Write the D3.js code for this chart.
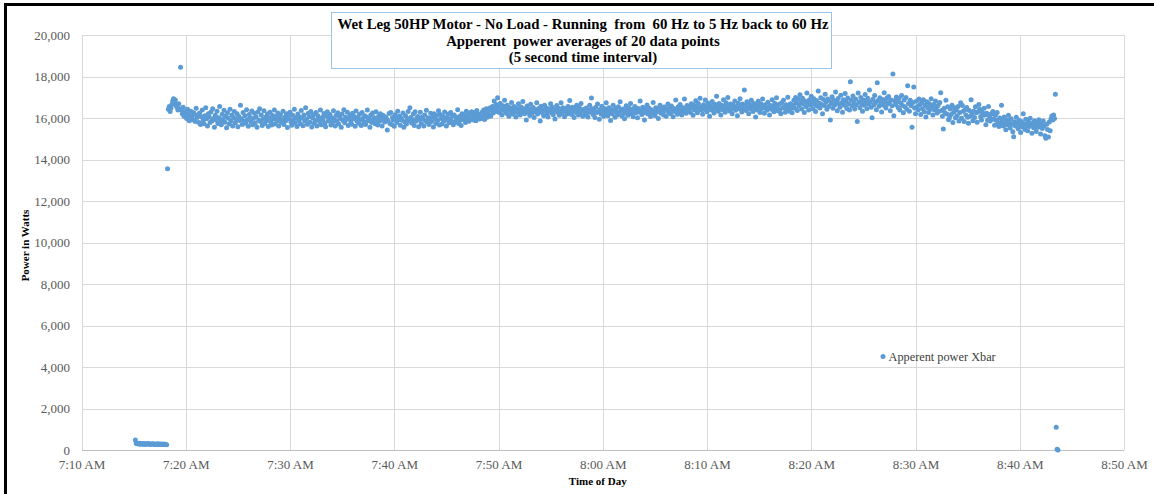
<!DOCTYPE html>
<html>
<head>
<meta charset="utf-8">
<script src="https://d3js.org/d3.v7.min.js"></script>
<style>
	body { margin: 0; background: #fff; }
	svg { display: block; font-family: "Liberation Serif", "Times New Roman", serif; }
	.axis .domain { display: none; }
	.axis line { stroke: #d9d9d9; shape-rendering: crispEdges; }
	.axis text { fill: #595959; font-size: 13px; font-family: "Liberation Serif", "Times New Roman", serif; }
</style>
</head>
<body>
<svg width="1154" height="494"></svg>
<script>
// Apparent power, one value every 5 seconds (watts)
const stepSeconds = 5;

// motor idle before the run
const idleStart = "07:15:10";
const idleWatts = [
	480, 330, 300, 310, 290, 320, 280, 300, 290, 310,
	270, 300, 290, 280, 310, 290, 300, 270, 290, 280,
	300, 290, 260, 280, 290, 270, 300, 280, 260, 290,
	280, 270, 290, 260, 280, 270, 250
];

// the run, in blocks of about ten minutes from runStart
const runStart = "07:18:15";
const block1 = [
	13550, 16420, 16560, 16310, 16480, 16650, 16820, 16930, 16740, 16870,
	16600, 16520, 16380, 16690, 16450, 18450, 16380, 16210, 16520, 16090,
	16300, 16150, 15980, 16420, 16260, 15870, 16110, 16330, 16040, 15920,
	16250, 16180, 15830, 16470, 16020, 16140, 15780, 16240, 15690, 16060,
	16380, 15890, 15720, 16110, 16490, 15960, 15610, 16200, 16050, 15780,
	16290, 15850, 16440, 15980, 15560, 16130, 15900, 16320, 15740, 16010,
	16560, 15820, 15670, 16180, 15940, 16370, 15790, 16080, 15530, 16250,
	15990, 15710, 16420, 15860, 16150, 15620, 16030, 16310, 15770, 15930,
	16210, 15580, 16090, 15880, 16620, 15960, 15690, 16270, 15840, 16110,
	15750, 16400, 15920, 15600, 16170, 16020, 15810, 16340, 15680, 15970,
	16230, 15760, 16060, 15550, 16290, 15900, 16450, 15830, 16140, 15640,
	15940, 16350, 15730, 16050, 15870, 16190, 15590, 16000, 16280, 15800,
	15660, 16120, 15950, 16380, 15710, 16070, 15850, 16240, 15620, 15980
];
const block2 = [
	16160, 15780, 15920, 16330, 15690, 16040, 15870, 16210, 15540, 16090,
	15960, 16280, 15820, 15650, 16130, 15910, 16420, 15760, 16020, 15590,
	16190, 15880, 16050, 15720, 16360, 15990, 15630, 16140, 15850, 16500,
	15940, 15700, 16230, 16070, 15800, 16310, 15570, 16000, 16160, 15750,
	15890, 16260, 15610, 16110, 15970, 15830, 16390, 15680, 16030, 15900,
	16220, 15740, 15580, 16080, 16300, 15860, 15950, 16170, 15660, 16010,
	15790, 16350, 15920, 15620, 16120, 15840, 16250, 15710, 16060, 15980,
	15550, 16190, 15880, 16400, 15770, 16040, 15930, 16280, 15640, 15990,
	16130, 15810, 15700, 16230, 15960, 16070, 15600, 16340, 15850, 16020,
	15750, 16180, 15910, 15640, 16270, 15990, 15820, 16110, 15690, 16050,
	16380, 15870, 15960, 15560, 16150, 15780, 16240, 15930, 16010, 15720,
	16300, 15890, 15660, 16090, 15840, 16200, 15970, 15610, 16130, 15900
];
const block3 = [
	15810, 16050, 15990, 15420, 15870, 16220, 15740, 16260, 15690, 16030,
	15900, 15600, 16160, 15970, 15780, 16330, 15920, 16080, 15650, 16000,
	15890, 16240, 15550, 15820, 16110, 15710, 15980, 16310, 15870, 16500,
	16020, 15760, 15930, 16190, 15640, 16300, 15840, 15990, 16070, 15580,
	15910, 16280, 15730, 16040, 15960, 15620, 16150, 15860, 16370, 15790,
	16010, 15690, 15970, 16230, 15830, 16060, 15570, 16200, 15950, 15740,
	16120, 15880, 16350, 15660, 16170, 15980, 15710, 16080, 15840, 16290,
	15920, 15610, 16040, 16190, 15770, 15940, 16260, 15850, 16100, 15680,
	16140, 15810, 16020, 15960, 16400, 15730, 16070, 15890, 15640, 16210,
	16030, 15920, 16150, 15780, 16320, 15990, 16090, 15840, 16230, 15960,
	16300, 16050, 15900, 16250, 16120, 15870, 16360, 16010, 16180, 15950,
	16160, 15980, 16280, 16060, 16390, 15930, 16200, 16450, 16040, 16310
];
const block4 = [
	16150, 16480, 16090, 16370, 16560, 16240, 16820, 16430, 16650, 16310,
	16980, 16520, 16270, 16700, 16400, 16150, 16590, 16360, 16860, 16480,
	16230, 16620, 16380, 16090, 16510, 16290, 16750, 16420, 16180, 16560,
	16330, 16050, 16470, 16260, 16690, 16390, 16140, 16530, 16310, 16800,
	16440, 16200, 16370, 15900, 16580, 16280, 16450, 16120, 16660, 16350,
	16240, 16510, 16020, 16400, 16300, 16730, 16190, 16460, 16330, 15850,
	16570, 16260, 16390, 16110, 16620, 16340, 16480, 16210, 16050, 16440,
	16370, 16690, 16250, 16520, 16160, 16410, 15950, 16330, 16600, 16280,
	16470, 16130, 16380, 16740, 16220, 16500, 16310, 16060, 16450, 16350,
	16190, 16560, 16290, 16840, 16400, 16170, 16520, 16330, 16020, 16460,
	16270, 16610, 16380, 16140, 16500, 16230, 16700, 16360, 16080, 16420,
	16310, 16150, 16480, 16230, 16050, 16390, 16620, 16280, 16960, 16440
];
const block5 = [
	16170, 16350, 16020, 16520, 16260, 16680, 16300, 15940, 16410, 16190,
	16570, 16320, 16080, 16460, 16240, 16730, 16350, 16110, 16500, 16280,
	15880, 16400, 16210, 16610, 16330, 16040, 16470, 16260, 16150, 16540,
	16290, 16780, 16380, 16100, 16430, 16220, 15960, 16360, 16590, 16270,
	16130, 16490, 16310, 16700, 16200, 16420, 16060, 16340, 16550, 16250,
	16380, 16010, 16460, 16290, 16820, 16350, 16170, 16520, 16240, 15900,
	16410, 16300, 16630, 16190, 16480, 16340, 16070, 16400, 16260, 16750,
	16330, 16120, 16500, 16280, 16440, 15980, 16370, 16610, 16230, 16470,
	16300, 16150, 16530, 16360, 16090, 16420, 16680, 16270, 16490, 16210,
	16580, 16340, 16060, 16460, 16310, 16870, 16400, 16180, 16540, 16290,
	16650, 16370, 16140, 16510, 16330, 16920, 16450, 16230, 16600, 16380,
	16420, 16580, 16270, 16690, 16480, 16130, 16610, 16390, 16830, 16520
];
const block6 = [
	16250, 16700, 16460, 16950, 16380, 16560, 16180, 16640, 16410, 16870,
	16530, 16300, 16720, 16470, 16090, 16600, 16380, 16790, 16510, 16240,
	16660, 16440, 17050, 16570, 16320, 16700, 16490, 16150, 16620, 16400,
	16880, 16550, 16280, 16730, 16460, 16990, 16590, 16340, 16680, 16420,
	16210, 16640, 16500, 16820, 16370, 16560, 16110, 16710, 16450, 16930,
	16530, 16290, 16670, 16410, 17350, 16600, 16360, 16780, 16490, 16200,
	16650, 16430, 16860, 16540, 16310, 16700, 16470, 16050, 16620, 16390,
	16810, 16560, 16270, 16690, 16440, 16920, 16510, 16230, 16640, 16480,
	16370, 16760, 16520, 16150, 16600, 16420, 16880, 16550, 16300, 16710,
	16460, 16970, 16580, 16340, 16660, 16400, 16200, 16730, 16490, 16850,
	16530, 16280, 16640, 16450, 17000, 16570, 16320, 16690, 16480, 16250,
	16620, 16850, 16470, 16990, 16710, 16360, 16900, 16580, 17120, 16760
];
const block7 = [
	16430, 16950, 16680, 16270, 16820, 16540, 17210, 16740, 16390, 16880,
	16620, 17050, 16780, 16450, 16930, 16660, 16310, 16840, 16570, 17300,
	16720, 16480, 16970, 16650, 16200, 16890, 16600, 17150, 16770, 16420,
	16910, 16550, 16830, 15900, 16700, 17020, 16470, 16860, 16630, 17250,
	16790, 16350, 16940, 16690, 16520, 17100, 16740, 16280, 16880, 16610,
	17180, 16810, 16460, 16960, 16670, 16390, 17750, 16850, 16580, 17060,
	16720, 16430, 16920, 16640, 15830, 17200, 16770, 16500, 16990, 16690,
	16330, 16870, 16610, 17130, 16800, 16450, 16950, 16660, 17350, 16780,
	16520, 16010, 16900, 16630, 17080, 16750, 16400, 17700, 16840, 16570,
	16980, 16700, 16290, 16890, 16620, 17220, 16810, 16480, 16960, 16680,
	17040, 16760, 16350, 16870, 16590, 18120, 16110, 16830, 16650, 17010,
	16780, 16510, 16940, 16380, 16720, 17080, 16600, 16250, 16870, 16540
];
const block8 = [
	16990, 16420, 17550, 16700, 16330, 16860, 16590, 15560, 16750, 17500,
	16480, 16200, 16810, 16550, 16390, 16920, 16640, 16170, 16730, 16450,
	16880, 16300, 16610, 16050, 16780, 16490, 16260, 16690, 16410, 16930,
	16560, 16140, 16650, 16380, 16820, 16510, 16240, 16600, 16320, 16750,
	17220, 16360, 16080, 15470, 16470, 16250, 16850, 16190, 16540, 15910,
	16000, 16430, 16170, 16620, 15780, 16280, 16490, 16010, 16380, 16110,
	16560, 15860, 16260, 16740, 15990, 16600, 16320, 15830, 16400, 16150,
	16510, 16040, 15750, 16360, 16090, 16880, 16200, 15870, 16330, 16020,
	16540, 16250, 15800, 16300, 16650, 16420, 16070, 15900, 16280, 16130,
	16470, 16140, 15680, 16230, 15890, 16550, 16080, 15860, 16190, 15950,
	16310, 15940, 15650, 16130, 15890, 16260, 15780, 15590, 16000, 15740,
	16620, 15880, 15620, 16050, 15740, 15430, 15910, 15680, 16130, 15790
];
const block9 = [
	15520, 15960, 15700, 15340, 15100, 15820, 15610, 16040, 15750, 15480,
	15890, 15660, 15300, 15830, 15570, 16200, 15720, 15450, 15940, 15640,
	15380, 15810, 15590, 15990, 15700, 15260, 15760, 15530, 15870, 15620,
	15350, 15790, 15560, 15920, 15680, 15230, 15740, 15500, 15850, 15610,
	15150, 15020, 15700, 15440, 15090, 15810, 15380, 15960, 16100, 15900,
	16150, 15980, 17150, 1100, 40, 0
];

const xTicks = ["07:10", "07:20", "07:30", "07:40", "07:50", "08:00", "08:10", "08:20", "08:30", "08:40", "08:50"];
const yTicks = [0, 2000, 4000, 6000, 8000, 10000, 12000, 14000, 16000, 18000, 20000];
const titleLines = [
	"Wet Leg 50HP Motor - No Load - Running  from  60 Hz to 5 Hz back to 60 Hz",
	"Apperent  power averages of 20 data points",
	"(5 second time interval)"
];
const seriesName = "Apperent power Xbar";

const svg = d3.select("svg");
const plotLeft = 81.5, plotRight = 1124, plotTop = 35, plotBottom = 450;
const color = "#5b9bd5";

const parseHms = d3.timeParse("%H:%M:%S");
const parseHm = d3.timeParse("%H:%M");

function series(start, values) {
	const t0 = parseHms(start);
	return values.map(function(v, i) {
		return { time: d3.timeSecond.offset(t0, i * stepSeconds), watts: v };
	});
}

const runWatts = [].concat(block1, block2, block3, block4, block5, block6, block7, block8, block9);
const points = series(idleStart, idleWatts).concat(series(runStart, runWatts));

const x = d3.scaleTime()
	.domain([parseHm(xTicks[0]), parseHm(xTicks[xTicks.length - 1])])
	.range([plotLeft, plotRight]);

const y = d3.scaleLinear()
	.domain([0, 20000])
	.range([plotBottom, plotTop]);

svg.append("rect")
	.attr("width", 1154)
	.attr("height", 494)
	.attr("fill", "#fff");

// frame edges of the screenshot
svg.append("rect").attr("x", 4).attr("y", 3).attr("width", 3).attr("height", 491).attr("fill", "#000");
svg.append("rect").attr("x", 4).attr("y", 3).attr("width", 1150).attr("height", 3).attr("fill", "#000");

svg.append("g")
	.attr("class", "axis y")
	.attr("transform", "translate(" + plotLeft + ",0)")
	.call(d3.axisLeft(y)
		.tickValues(yTicks)
		.tickSize(-(plotRight - plotLeft))
		.tickPadding(11.5)
		.tickFormat(d3.format(",")));

svg.append("g")
	.attr("class", "axis x")
	.attr("transform", "translate(0," + plotBottom + ")")
	.call(d3.axisBottom(x)
		.tickValues(xTicks.map(parseHm))
		.tickSize(-(plotBottom - plotTop))
		.tickPadding(10)
		.tickFormat(d3.timeFormat("%-I:%M %p")));

svg.append("line")
	.attr("x1", plotLeft).attr("x2", plotRight)
	.attr("y1", plotBottom).attr("y2", plotBottom)
	.attr("stroke", "#bfbfbf")
	.attr("shape-rendering", "crispEdges");

svg.append("g")
	.attr("class", "points")
	.selectAll("circle")
	.data(points)
	.enter().append("circle")
	.attr("cx", function(d) { return x(d.time); })
	.attr("cy", function(d) { return y(d.watts); })
	.attr("r", 2.5)
	.attr("fill", color);

// title box
const title = svg.append("g").attr("class", "title");
title.append("rect")
	.attr("x", 331.5).attr("y", 12.5)
	.attr("width", 500).attr("height", 56)
	.attr("fill", "#fff")
	.attr("stroke", "#9dc3e6");
title.selectAll("text")
	.data(titleLines)
	.enter().append("text")
	.attr("x", 583)
	.attr("y", function(d, i) { return 29 + i * 16.5; })
	.attr("text-anchor", "middle")
	.attr("font-size", "14.8px")
	.attr("font-weight", "bold")
	.attr("fill", "#000")
	.style("white-space", "pre")
	.text(function(d) { return d; });

svg.append("text")
	.attr("x", (plotLeft + plotRight) / 2 - 5)
	.attr("y", 485)
	.attr("text-anchor", "middle")
	.attr("font-size", "11px")
	.attr("font-weight", "bold")
	.text("Time of Day");

svg.append("text")
	.attr("transform", "translate(28.5," + ((plotTop + plotBottom) / 2 + 3) + ") rotate(-90)")
	.attr("text-anchor", "middle")
	.attr("font-size", "11px")
	.attr("font-weight", "bold")
	.text("Power in Watts");

// legend
const legend = svg.append("g").attr("class", "legend");
legend.append("circle")
	.attr("cx", 883).attr("cy", 356.5)
	.attr("r", 2.5)
	.attr("fill", color);
legend.append("text")
	.attr("x", 888.5).attr("y", 360.5)
	.attr("font-size", "12.3px")
	.attr("fill", "#404040")
	.text(seriesName);
</script>
</body>
</html>
